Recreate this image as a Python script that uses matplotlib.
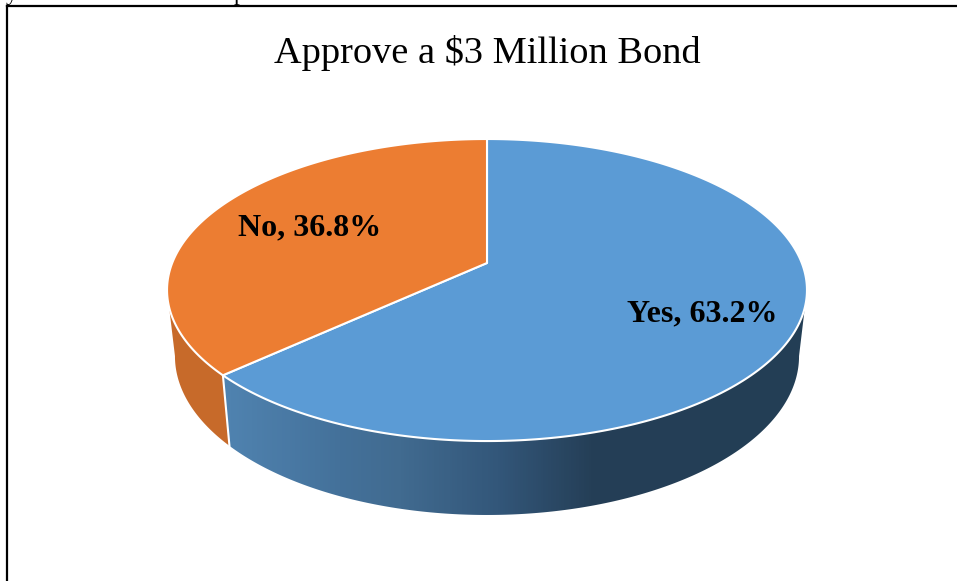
import numpy as np
import matplotlib
matplotlib.use("Agg")
import matplotlib.pyplot as plt
from matplotlib.patches import Polygon
from matplotlib.colors import LinearSegmentedColormap

title = "Approve a $3 Million Bond"
categories = ["Yes", "No"]
shares = [63.2, 36.8]
colours = ["#5b9bd5", "#ec7d32"]

plt.rcParams['font.family'] = ['Liberation Serif', 'DejaVu Serif']


def top_rim(theta, r=1.0):
    # pie disc seen in perspective, theta runs clockwise from 12 o'clock
    u = r * np.sin(theta)
    v = r * np.cos(theta)
    w = 1 + 0.179 * v
    return 487 + 314.8 * u / w, (263 - 99.1 * v) / w


def bottom_rim(theta):
    u = np.sin(theta)
    v = np.cos(theta)
    w = 1 + 0.179 * v
    return 487 + 307 * u / w, (327.8 - 95 * v) / w


def draw_side(ax, t0, t1, cmap):
    # side wall: horizontal gradient clipped to the strip between the rims
    ts = np.linspace(t0, t1, 300)
    xa, ya = top_rim(ts)
    xb, yb = bottom_rim(ts)
    pts = np.column_stack([np.r_[xa, xb[::-1]], np.r_[ya, yb[::-1]]])
    wall = Polygon(pts, closed=True, fc="none", ec="none", transform=ax.transData)
    ax.add_patch(wall)
    grad = np.linspace(0, 1, 650).reshape(1, -1)
    im = ax.imshow(grad, cmap=cmap, extent=(160, 810, 530, 280), aspect="auto", zorder=2, vmin=0, vmax=1)
    im.set_clip_path(wall)


fig = plt.figure(figsize=(9.57, 5.81), dpi=100)
ax = fig.add_axes([0, 0, 1, 1])

blue_side = LinearSegmentedColormap.from_list("blue_side", [(0, "#5a90c0"), (0.108, "#4f82af"), (0.277, "#44719a"), (0.369, "#416b90"), (0.518, "#33577a"), (0.665, "#253f57"), (1, "#233e55")])
orange_side = LinearSegmentedColormap.from_list("orange_side", ["#c86b2b", "#c46828"])

# wedge limits from the shares, clockwise from the top
edges = np.cumsum([0] + shares) / sum(shares) * 2 * np.pi

# the wall starts where each rim is widest
draw_side(ax, 0.557 * np.pi, edges[1], blue_side)
draw_side(ax, edges[1], 1.443 * np.pi, orange_side)

ax.set_xlim(0, 957)
ax.set_ylim(581, 0)
ax.axis("off")

for i in range(len(shares)):
    ts = np.linspace(edges[i], edges[i + 1], 300)
    x, y = top_rim(ts)
    cx, cy = top_rim(0.0, 0.0)
    pts = np.column_stack([np.r_[cx, x], np.r_[cy, y]])
    ax.add_patch(Polygon(pts, closed=True, fc=colours[i], ec="white", lw=1.5, zorder=3, joinstyle="round"))

# white seam down the side between the two slices
xa, ya = top_rim(edges[1])
xb, yb = bottom_rim(edges[1])
ax.plot([xa, xb], [ya, yb], color="white", lw=1.5, zorder=2.5)

ax.text(487, 53, title, ha="center", va="center", fontsize=27.6, color="black", zorder=5)
ax.text(702, 314, "%s, %.1f%%" % (categories[0], shares[0]), ha="center", va="center", fontsize=23, fontweight="bold", zorder=5)
ax.text(310, 228, "%s, %.1f%%" % (categories[1], shares[1]), ha="center", va="center", fontsize=23, fontweight="bold", zorder=5)

# page frame and the clipped line of text above it
ax.plot([7, 7], [581, 6], color="black", lw=1.6, zorder=6, solid_capstyle="projecting")
ax.plot([7, 957], [6, 6], color="black", lw=1.6, zorder=6)
ax.text(12, 0, "y", ha="center", va="baseline", fontsize=17, clip_on=True)
ax.text(240, 0, "p", ha="center", va="baseline", fontsize=17, clip_on=True)

fig.savefig("out.png", dpi=100)
